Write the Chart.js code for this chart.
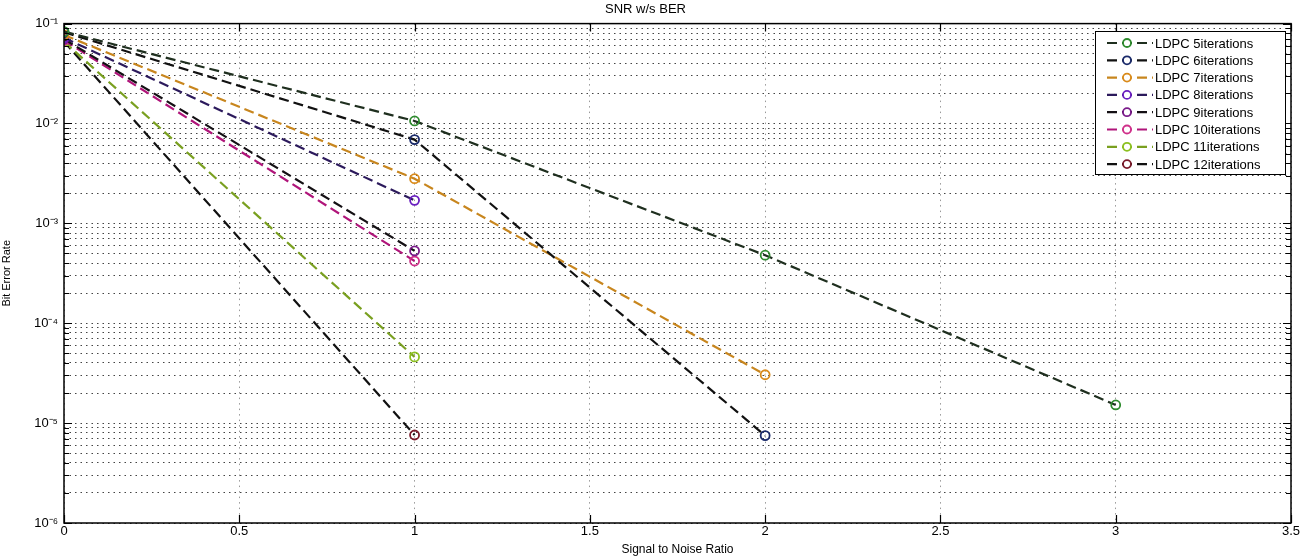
<!DOCTYPE html>
<html>
<head>
<meta charset="utf-8">
<script src="https://cdn.jsdelivr.net/npm/chart.js@4"></script>
<style>
  html, body { margin: 0; padding: 0; background: #fff; }
  #wrap { width: 1311px; height: 557px; }
</style>
</head>
<body>
<div id="wrap"><canvas id="myChart"></canvas></div>
<script>
// values
const seriesNames = ['LDPC 5iterations', 'LDPC 6iterations', 'LDPC 7iterations', 'LDPC 8iterations',
  'LDPC 9iterations', 'LDPC 10iterations', 'LDPC 11iterations', 'LDPC 12iterations'];
const snr5 = [0, 1, 2, 3];
const ber5 = [0.083, 0.0106, 0.00048, 1.52e-5];
const snr6 = [0, 1, 2];
const ber6 = [0.082, 0.0069, 7.5e-6];
const snr7 = [0, 1, 2];
const ber7 = [0.077, 0.0028, 3.05e-5];
const snr8 = [0, 1];
const ber8 = [0.072, 0.0017];
const snr9 = [0, 1];
const ber9 = [0.070, 0.00053];
const snr10 = [0, 1];
const ber10 = [0.068, 0.00042];
const snr11 = [0, 1];
const ber11 = [0.066, 4.6e-5];
const snr12 = [0, 1];
const ber12 = [0.066, 7.6e-6];
const xTicks = [0, 0.5, 1, 1.5, 2, 2.5, 3, 3.5];
const decades = [-6, -5, -4, -3, -2, -1];

const lineColors = ['#1f2f1f', '#111111', '#c8861e', '#2c1a5c', '#141014', '#b0157a', '#7aa020', '#111111'];
const markColors = ['#2e8b2e', '#1a2a6a', '#d98a1a', '#6a1fc0', '#7a1a8a', '#d0308a', '#8cc020', '#7a1a2a'];

const allSnr = [snr5, snr6, snr7, snr8, snr9, snr10, snr11, snr12];
const allBer = [ber5, ber6, ber7, ber8, ber9, ber10, ber11, ber12];

const sup = { '-': '⁻', '0': '⁰', '1': '¹', '2': '²', '3': '³', '4': '⁴', '5': '⁵', '6': '⁶' };
const expLabel = e => '10' + String(e).split('').map(c => sup[c]).join('');
const isDecade = v => Math.abs(Math.log10(v) - Math.round(Math.log10(v))) < 1e-9;

// y grid: every 1..9 x 10^k
const yGrid = [];
decades.forEach(d => {
  for (let m = 1; m <= 9; m++) {
    if (d === -1 && m > 1) break;
    yGrid.push(m * Math.pow(10, d));
  }
});

const datasets = seriesNames.map((name, i) => ({
  label: name,
  data: allSnr[i].map((x, j) => ({ x: x, y: allBer[i][j] })),
  borderColor: lineColors[i],
  borderWidth: 2.2,
  borderDash: [10, 5],
  pointRadius: 4.5,
  pointBorderWidth: 1.8,
  pointBorderColor: markColors[i],
  pointBackgroundColor: 'rgba(255,255,255,0)',
  fill: false
}));

const font = 'Liberation Sans, Arial, sans-serif';

// box round the plot and inward ticks, matlab style
const boxPlugin = {
  id: 'box',
  afterDatasetsDraw(chart) {
    const { ctx, chartArea: a, scales } = chart;
    ctx.save();
    ctx.strokeStyle = '#000';
    ctx.lineWidth = 1.5;
    ctx.strokeRect(a.left, a.top, a.right - a.left, a.bottom - a.top);
    ctx.lineWidth = 1.2;
    yGrid.forEach(v => {
      const y = Math.round(scales.y.getPixelForValue(v)) + 0.5;
      const len = isDecade(v) ? 8 : 5;
      ctx.beginPath();
      ctx.moveTo(a.left, y); ctx.lineTo(a.left + len, y);
      ctx.moveTo(a.right, y); ctx.lineTo(a.right - len, y);
      ctx.stroke();
    });
    xTicks.forEach(v => {
      const x = Math.round(scales.x.getPixelForValue(v)) + 0.5;
      ctx.beginPath();
      ctx.moveTo(x, a.bottom); ctx.lineTo(x, a.bottom - 8);
      ctx.moveTo(x, a.top); ctx.lineTo(x, a.top + 8);
      ctx.stroke();
    });
    ctx.restore();
  },
  afterDraw(chart) {
    // legend box in the top right corner
    const { ctx } = chart;
    const left = 1095, top = 31, w = 190, h = 143, step = 17.3;
    ctx.save();
    ctx.fillStyle = '#fff';
    ctx.fillRect(left, top, w, h);
    ctx.strokeStyle = '#000';
    ctx.lineWidth = 1;
    ctx.strokeRect(left + 0.5, top + 0.5, w, h);
    ctx.font = '13px ' + font;
    ctx.textBaseline = 'middle';
    seriesNames.forEach((name, i) => {
      const y = top + 12 + i * step;
      ctx.strokeStyle = lineColors[i];
      ctx.lineWidth = 2.2;
      ctx.setLineDash([10, 5]);
      ctx.beginPath();
      ctx.moveTo(left + 12, y); ctx.lineTo(left + 58, y);
      ctx.stroke();
      ctx.setLineDash([]);
      ctx.fillStyle = '#fff';
      ctx.beginPath();
      ctx.arc(left + 32, y, 4, 0, Math.PI * 2);
      ctx.fill();
      ctx.lineWidth = 1.8;
      ctx.strokeStyle = markColors[i];
      ctx.stroke();
      ctx.fillStyle = '#000';
      ctx.fillText(name, left + 60, y + 1);
    });
    ctx.restore();
  }
};

const ctx = document.getElementById('myChart').getContext('2d');
const myChart = new Chart(ctx, {
  type: 'line',
  data: { datasets: datasets },
  options: {
    responsive: true,
    maintainAspectRatio: false,
    animation: false,
    layout: { padding: { left: 0, right: 20, top: 0, bottom: 0 } },
    plugins: {
      legend: { display: false },
      tooltip: { enabled: false },
      title: {
        display: true,
        text: 'SNR w/s BER',
        color: '#000',
        font: { family: font, size: 13, weight: 'normal' },
        padding: { top: 2, bottom: 6 }
      }
    },
    scales: {
      x: {
        type: 'linear',
        min: 0,
        max: 3.5,
        afterBuildTicks: s => { s.ticks = xTicks.map(v => ({ value: v })); },
        afterFit: s => { s.height = 34; },
        ticks: {
          color: '#000',
          font: { family: font, size: 13 },
          padding: 1,
          autoSkip: false,
          maxRotation: 0,
          callback: v => String(v)
        },
        grid: { color: '#999', lineWidth: 1, drawTicks: false },
        border: { display: false, dash: [1.5, 4] },
        title: {
          display: true,
          text: 'Signal to Noise Ratio',
          color: '#000',
          font: { family: font, size: 12 },
          padding: { top: 0, bottom: 0 }
        }
      },
      y: {
        type: 'logarithmic',
        min: 1e-6,
        max: 1e-1,
        afterBuildTicks: s => { s.ticks = yGrid.map(v => ({ value: v })); },
        afterFit: s => { s.width = 64; },
        ticks: {
          color: '#000',
          font: { family: font, size: 13 },
          padding: 6,
          autoSkip: false,
          callback: v => isDecade(v) ? expLabel(Math.round(Math.log10(v))) : ''
        },
        grid: { color: '#444', lineWidth: 1, drawTicks: false },
        border: { display: false, dash: [1.5, 4] },
        title: {
          display: true,
          text: 'Bit Error Rate',
          color: '#000',
          font: { family: font, size: 11 },
          padding: { top: 0, bottom: 2 }
        }
      }
    }
  },
  plugins: [boxPlugin]
});
</script>
</body>
</html>
